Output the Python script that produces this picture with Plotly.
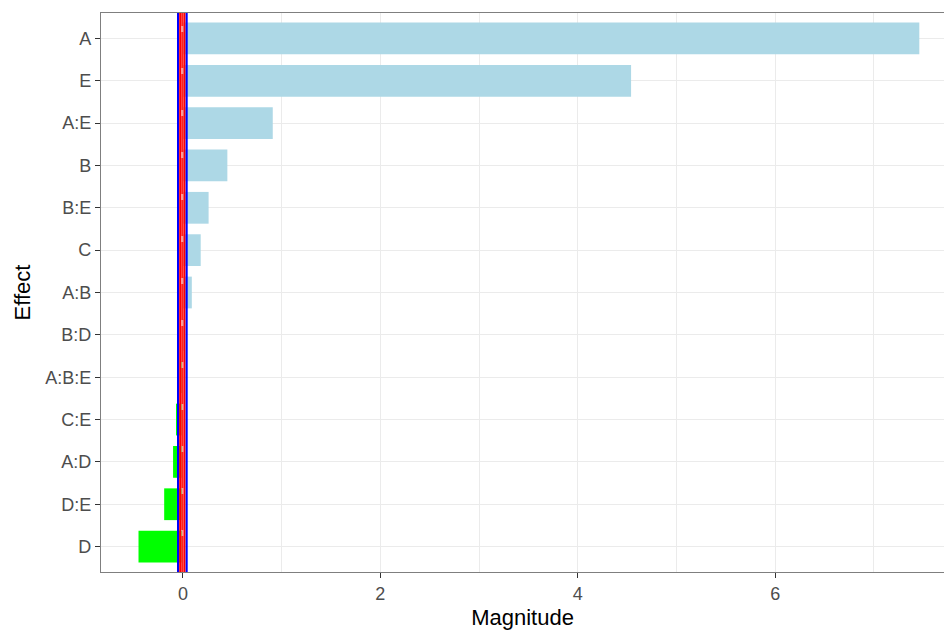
import plotly.graph_objects as go

effects = ["D", "D:E", "A:D", "C:E", "A:B:E", "B:D", "A:B", "C", "B:E", "B", "A:E", "E", "A"]
magnitude = [-0.45, -0.19, -0.10, -0.07, -0.01, 0.02, 0.09, 0.18, 0.26, 0.45, 0.91, 4.54, 7.46]
colors = ["#00FF00" if v < 0 else "#ADD8E6" for v in magnitude]

blue_lines = [-0.05, 0.038]
red_lines = [-0.028, 0.016]
center_line = -0.006

fig = go.Figure()
fig.add_trace(go.Bar(
    y=effects, x=magnitude, orientation="h",
    marker=dict(color=colors, line=dict(width=0)),
    width=0.75, showlegend=False,
))

shapes = []
shapes.append(dict(type="line", xref="x", yref="paper", x0=center_line, x1=center_line, y0=0, y1=1,
                   line=dict(color="#FF9A9A", width=2)))
shapes.append(dict(type="line", xref="x", yref="paper", x0=center_line, x1=center_line, y0=0, y1=1,
                   line=dict(color="#FF2020", width=2, dash="36px,6px")))
for v in red_lines:
    shapes.append(dict(type="line", xref="x", yref="paper", x0=v, x1=v, y0=0, y1=1,
                       line=dict(color="#FF0000", width=2)))
for v in blue_lines:
    shapes.append(dict(type="line", xref="x", yref="paper", x0=v, x1=v, y0=0, y1=1,
                       line=dict(color="#0000FF", width=2)))

fig.update_layout(
    width=944, height=630,
    margin=dict(l=101, r=0, t=13, b=58),
    plot_bgcolor="white", paper_bgcolor="white",
    font=dict(family="Liberation Sans, Arial, sans-serif", color="#4D4D4D", size=18),
    shapes=shapes,
    xaxis=dict(
        range=[-0.83, 7.71], tickmode="array", tickvals=[0, 2, 4, 6], ticktext=["0", "2", "4", "6"],
        showgrid=True, gridcolor="#EBEBEB", gridwidth=1.2,
        minor=dict(tickmode="array", tickvals=[1, 3, 5, 7], showgrid=True, gridcolor="#EBEBEB", gridwidth=0.7, ticks=""),
        showline=True, linecolor="#7F7F7F", linewidth=1.3, mirror=True,
        ticks="outside", ticklen=5, tickcolor="#333333", tickwidth=1.2,
        zeroline=False,
        title=dict(text="Magnitude", font=dict(size=22, color="black"), standoff=9),
        tickfont=dict(size=18, color="#4D4D4D"),
    ),
    yaxis=dict(
        range=[-0.6, 12.6], categoryorder="array", categoryarray=effects,
        showgrid=True, gridcolor="#EBEBEB", gridwidth=1.2,
        showline=True, linecolor="#7F7F7F", linewidth=1.3,
        ticks="outside", ticklen=5, tickcolor="#333333", tickwidth=1.2,
        zeroline=False,
        title=dict(text="Effect", font=dict(size=22, color="black"), standoff=8),
        tickfont=dict(size=18, color="#4D4D4D"),
    ),
)

fig.write_html("out.html")
